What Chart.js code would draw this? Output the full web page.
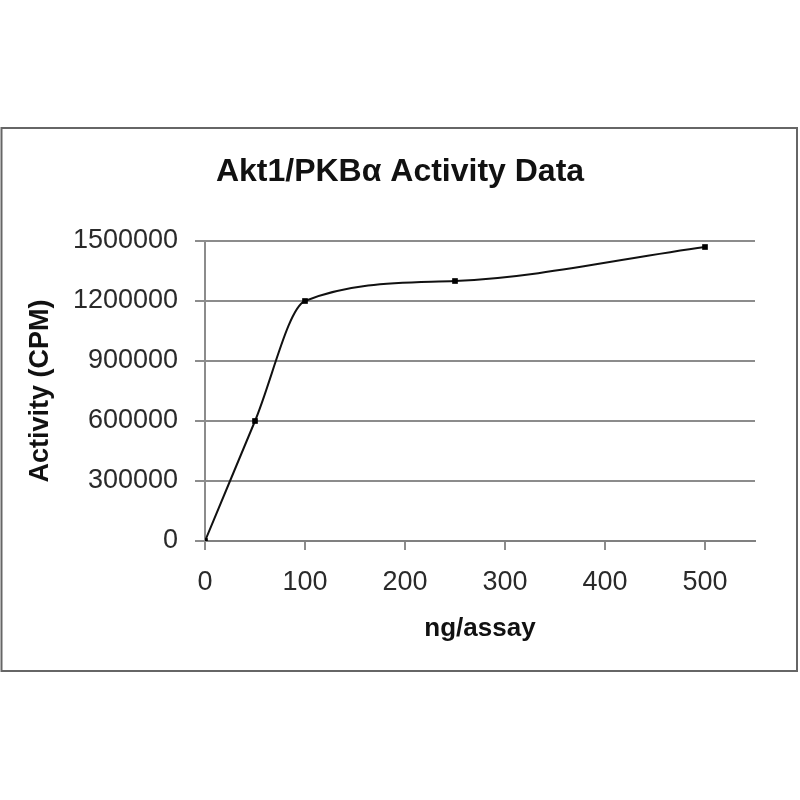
<!DOCTYPE html>
<html><head><meta charset="utf-8">
<script src="https://cdn.jsdelivr.net/npm/chart.js@4.4.0/dist/chart.umd.min.js"></script>
<style>html,body{margin:0;padding:0;background:#fff}#wrap{width:800px;height:800px}</style>
</head><body><div id="wrap"><canvas id="c" width="800" height="800"></canvas></div>
<script>
const amounts = [0, 50, 100, 250, 500];
const activity = [0, 600000, 1200000, 1300000, 1470000];
const titleText = 'Akt1/PKB\u03B1 Activity Data';
const xTitle = 'ng/assay';
const yTitle = 'Activity (CPM)';

const borderPlugin = {
  id: 'frame',
  beforeDraw(chart) {
    const ctx = chart.ctx;
    ctx.save();
    ctx.fillStyle = '#fff';
    ctx.fillRect(0, 0, chart.width, chart.height);
    ctx.strokeStyle = '#666';
    ctx.lineWidth = 2;
    ctx.strokeRect(1.5, 128, 795.5, 543);
    ctx.restore();
  }
};

new Chart(document.getElementById('c'), {
  type: 'line',
  data: {
    datasets: [{
      data: amounts.map((x, i) => ({x: x, y: activity[i]})),
      borderColor: '#111',
      backgroundColor: '#000',
      borderWidth: 2,
      cubicInterpolationMode: 'monotone',
      pointStyle: 'rect',
      pointRadius: 4,
      pointBorderWidth: 0,
      fill: false
    }]
  },
  options: {
    responsive: false,
    animation: false,
    devicePixelRatio: 1,
    layout: {padding: {left: 45, right: 45, top: 0, bottom: 0}},
    plugins: {
      legend: {display: false},
      tooltip: {enabled: false},
      title: {
        display: true,
        text: titleText,
        color: '#111',
        font: {family: 'Liberation Sans', size: 32, weight: 'bold'},
        padding: {top: 152.8, bottom: 49.8}
      }
    },
    scales: {
      x: {
        type: 'linear',
        min: 0, max: 550,
        border: {display: true, color: '#808080', width: 2},
        grid: {drawOnChartArea: false, drawTicks: true, tickLength: 9, color: '#8c8c8c', lineWidth: 2},
        ticks: {stepSize: 100, includeBounds: false, padding: 16.8, color: '#2a2a2a', font: {family: 'Liberation Sans', size: 27}, maxRotation: 0},
        title: {display: true, text: xTitle, color: '#111', font: {family: 'Liberation Sans', size: 26, weight: 'bold'}, padding: {top: 0, bottom: 155.4}},
        afterFit(scale) { scale.height = 259; }
      },
      y: {
        min: 0, max: 1500000,
        border: {display: true, color: '#8c8c8c', width: 2},
        grid: {drawTicks: true, tickLength: 10, color: '#8c8c8c', lineWidth: 2},
        ticks: {stepSize: 300000, padding: 17, color: '#2a2a2a', font: {family: 'Liberation Sans', size: 27},
          callback: (v) => String(v)},
        title: {display: true, text: yTitle, color: '#111', font: {family: 'Liberation Sans', size: 27, weight: 'bold'}, padding: {top: -20.7, bottom: 0}},
        afterFit(scale) { scale.width = 160; }
      }
    }
  },
  plugins: [borderPlugin]
});
</script></body></html>
